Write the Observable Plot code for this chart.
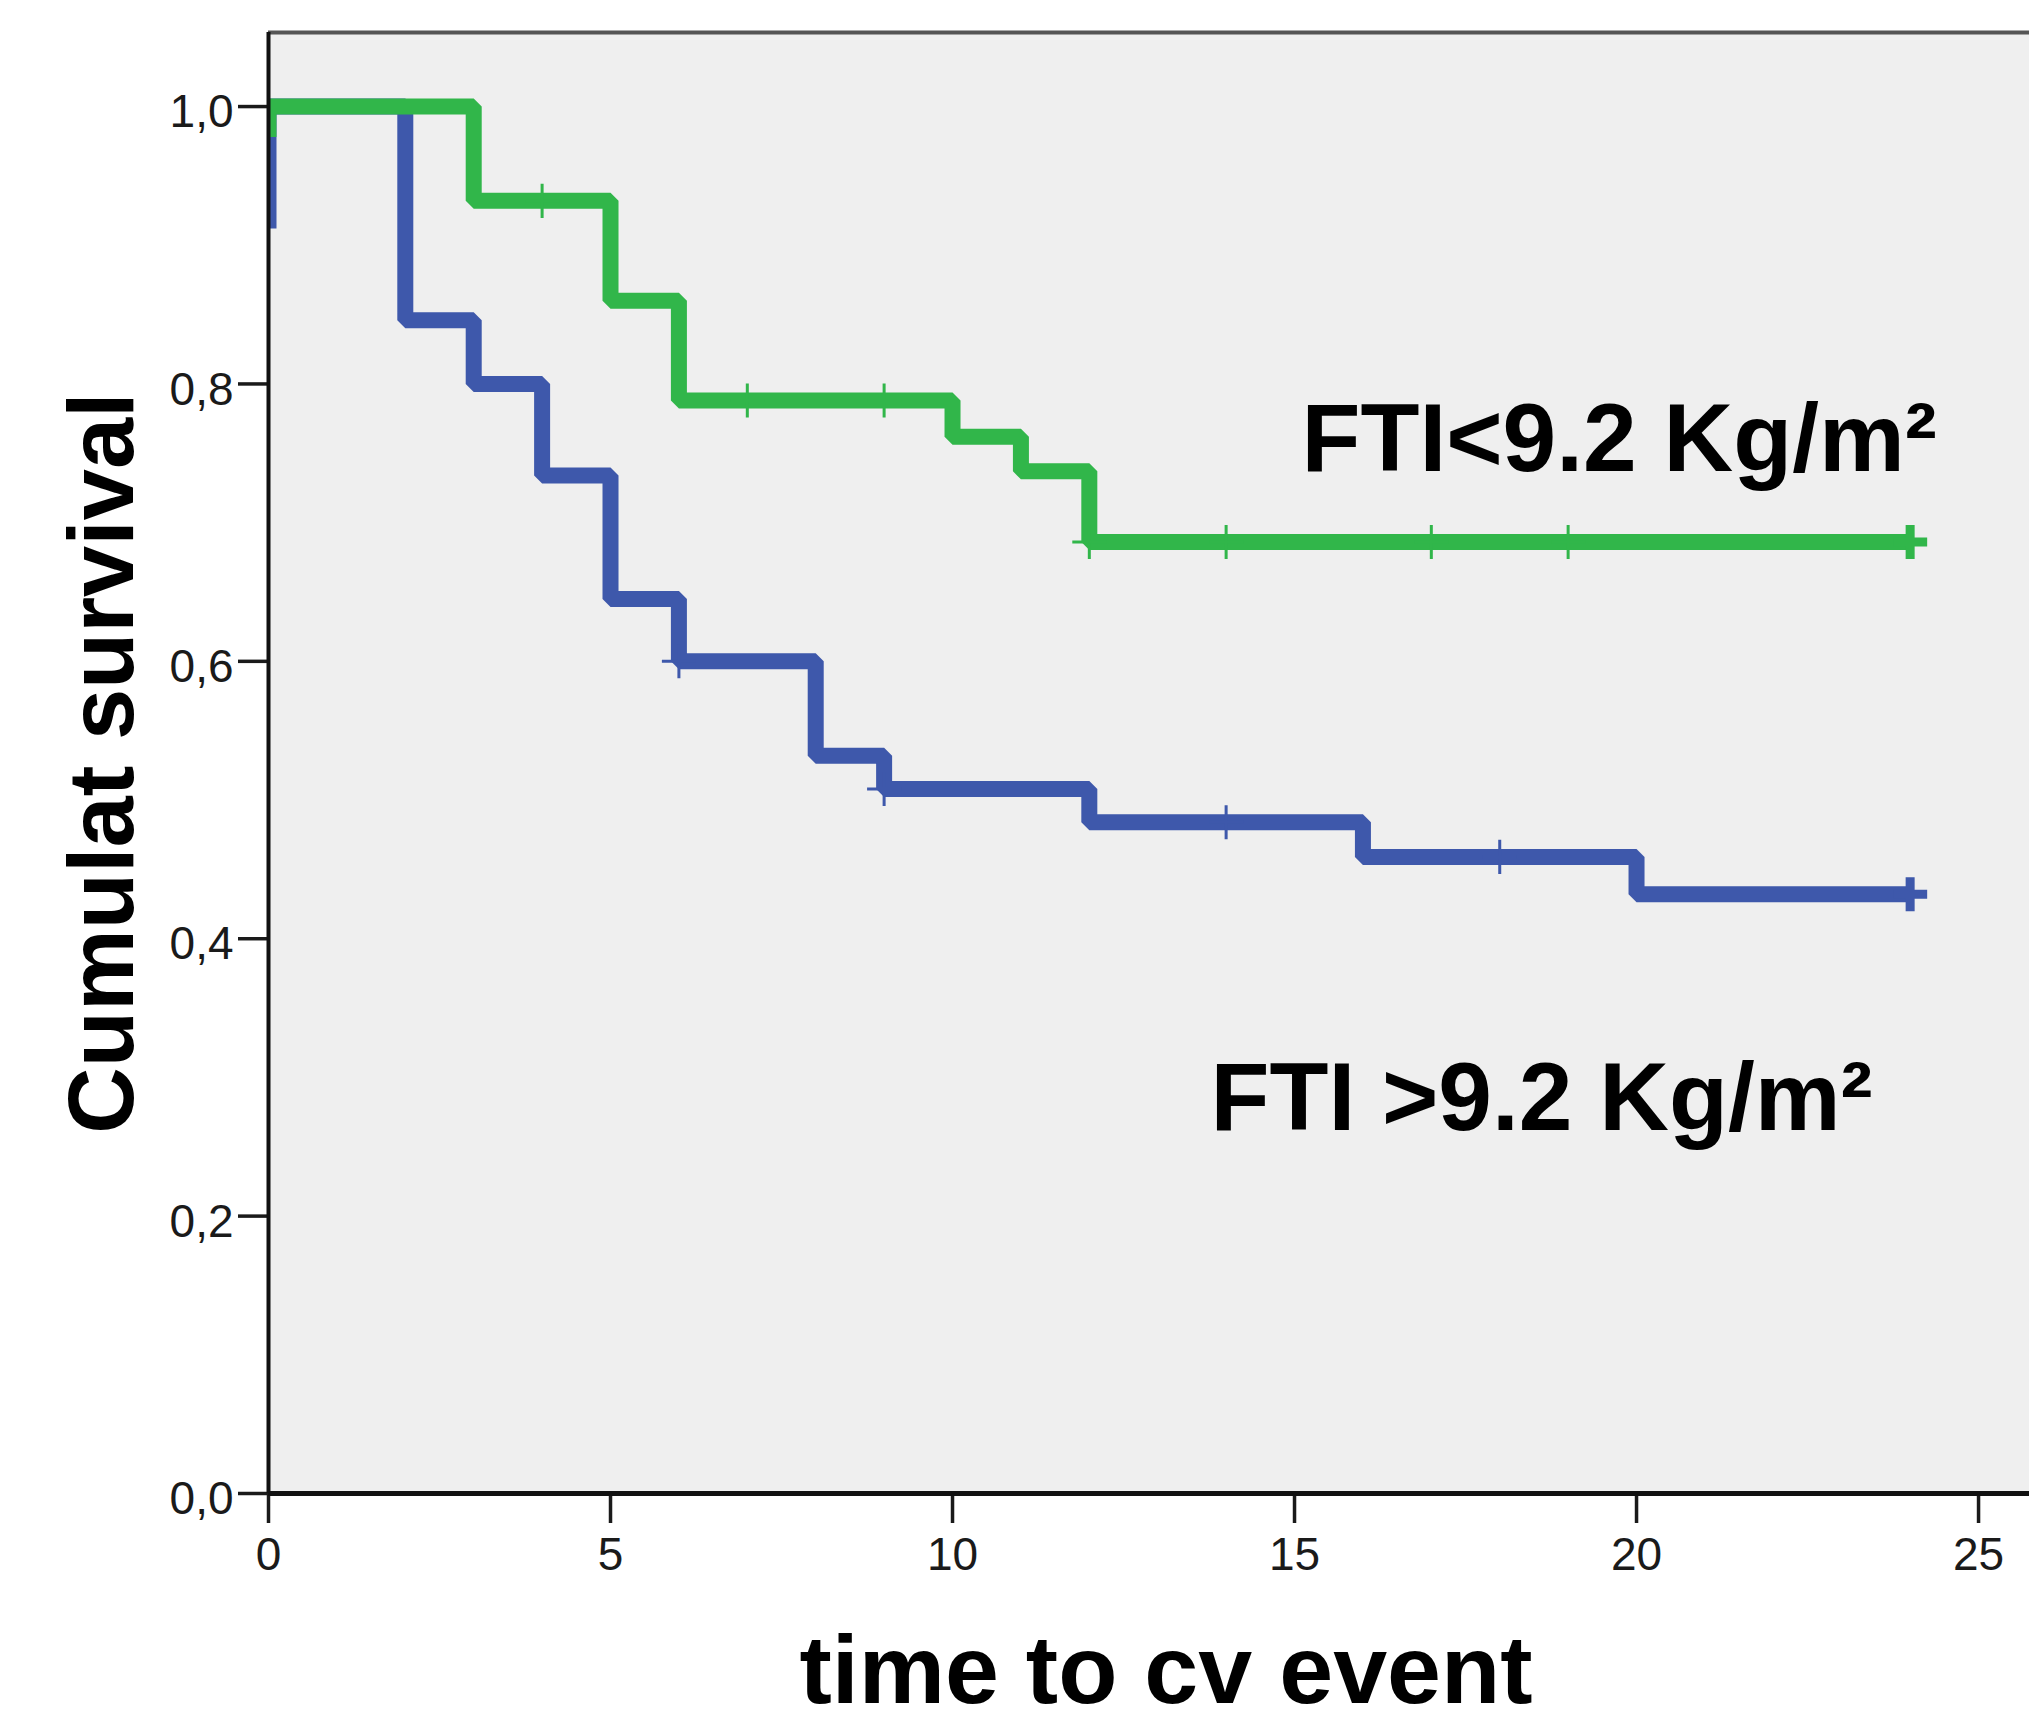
<!DOCTYPE html>
<html>
<head>
<meta charset="utf-8">
<script src="https://cdn.jsdelivr.net/npm/d3@7"></script>
<script src="https://cdn.jsdelivr.net/npm/@observablehq/plot@0.6"></script>
<style>
  html, body { margin: 0; padding: 0; background: #ffffff; overflow: hidden; }
  svg { display: block; }
</style>
</head>
<body>
<div id="chart"></div>
<script>
// ---- Data ----
const groupLabels = ["FTI<9.2 Kg/m\u00B2", "FTI >9.2 Kg/m\u00B2"];

// Kaplan–Meier step points, group FTI<9.2 (green)
const lowTime = [0, 0, 3, 5, 6, 10, 11, 12, 24];
const lowSurv = [0.978, 1.0, 0.932, 0.860, 0.788, 0.762, 0.737, 0.686, 0.686];
const lowCensored = [4, 7, 9, 12, 14, 17, 19, 24];

// Kaplan–Meier step points, group FTI>9.2 (blue)
const highTime = [0, 0, 2, 3, 4, 5, 6, 8, 9, 12, 16, 20, 24];
const highSurv = [0.912, 1.0, 0.846, 0.800, 0.734, 0.645, 0.600, 0.532, 0.508, 0.484, 0.459, 0.432, 0.432];
const highCensored = [6, 9, 14, 18, 24];

const xTicks = [0, 5, 10, 15, 20, 25];
const yTicks = [0, 0.2, 0.4, 0.6, 0.8, 1.0];
const xTitle = "time to cv event";
const yTitle = "Cumulat survival";

// ---- Build tables ----
const toRows = (T, S) => T.map((t, i) => ({t, s: S[i]}));
function survAt(T, S, t) {
  let v = S[0];
  for (let i = 0; i < T.length; i++) if (T[i] <= t) v = S[i];
  return v;
}
const lowRows = toRows(lowTime, lowSurv);
const highRows = toRows(highTime, highSurv);
const lowLast = d3.max(lowTime), highLast = d3.max(highTime);
const lowCens = lowCensored.map(t => ({t, s: survAt(lowTime, lowSurv, t), last: t === lowLast}));
const highCens = highCensored.map(t => ({t, s: survAt(highTime, highSurv, t), last: t === highLast}));

const GREEN = "#31b64a";
const BLUE = "#3e58ab";
const xMax = 25.745;
const yMax = 1.0534;

const chart = Plot.plot({
  width: 2029,
  height: 1723,
  marginLeft: 268,
  marginRight: 0,
  marginTop: 32,
  marginBottom: 230,
  x: {domain: [0, xMax]},
  y: {domain: [0, yMax]},
  style: {fontFamily: "'Liberation Sans', Arial, sans-serif", background: "#ffffff", color: "#1a1a1a"},
  marks: [
    Plot.frame({fill: "#efefef", stroke: "none"}),
    Plot.line(highRows, {x: "t", y: "s", curve: "step-after", stroke: BLUE, strokeWidth: 16, strokeLinejoin: "miter", strokeLinecap: "butt", clip: true}),
    Plot.dot(highCens.filter(d => !d.last), {x: "t", y: "s", symbol: "plus", r: 11, stroke: BLUE, strokeWidth: 3}),
    Plot.dot(highCens.filter(d => d.last), {x: "t", y: "s", symbol: "plus", r: 11, stroke: BLUE, strokeWidth: 9}),
    Plot.line(lowRows, {x: "t", y: "s", curve: "step-after", stroke: GREEN, strokeWidth: 16, strokeLinejoin: "miter", strokeLinecap: "butt", clip: true}),
    Plot.dot(lowCens.filter(d => !d.last), {x: "t", y: "s", symbol: "plus", r: 11, stroke: GREEN, strokeWidth: 3}),
    Plot.dot(lowCens.filter(d => d.last), {x: "t", y: "s", symbol: "plus", r: 11, stroke: GREEN, strokeWidth: 9}),
    // axes
    Plot.axisX({ticks: xTicks, tickSize: 30, tickPadding: 14, fontSize: 46, strokeWidth: 3.5, label: null, tickFormat: d3.format("d")}),
    Plot.axisY({ticks: yTicks, tickSize: 30, strokeWidth: 3.5, fill: "none", label: null}),
    Plot.axisY({ticks: yTicks, tickSize: 0, tickPadding: 35, dy: 6, fontSize: 46, label: null,
      tickFormat: d => d.toFixed(1).replace(".", ",")}),
    // plot borders
    Plot.ruleY([yMax], {stroke: "#555555", strokeWidth: 4}),
    Plot.ruleX([0], {stroke: "#111111", strokeWidth: 4}),
    Plot.ruleY([0], {stroke: "#111111", strokeWidth: 5}),
    // titles
    Plot.text([yTitle], {text: d => d, frameAnchor: "left", rotate: -90, dx: -136, textAnchor: "middle", lineAnchor: "bottom",
      fontSize: 92, fontWeight: "bold", fill: "#000000"}),
    Plot.text([xTitle], {text: d => d, frameAnchor: "bottom", dx: 17, dy: 209, textAnchor: "middle", lineAnchor: "bottom",
      fontSize: 97, fontWeight: "bold", fill: "#000000"}),
    // group annotations
    Plot.text([groupLabels[0]], {text: d => d, frameAnchor: "top-left", dx: 1033, dy: 438, lineAnchor: "bottom",
      textAnchor: "start", fontSize: 96.5, fontWeight: "bold", fill: "#000000"}),
    Plot.text([groupLabels[1]], {text: d => d, frameAnchor: "top-left", dx: 942, dy: 1097, lineAnchor: "bottom",
      textAnchor: "start", fontSize: 96.5, fontWeight: "bold", fill: "#000000"})
  ]
});
document.getElementById("chart").appendChild(chart);
</script>
</body>
</html>
